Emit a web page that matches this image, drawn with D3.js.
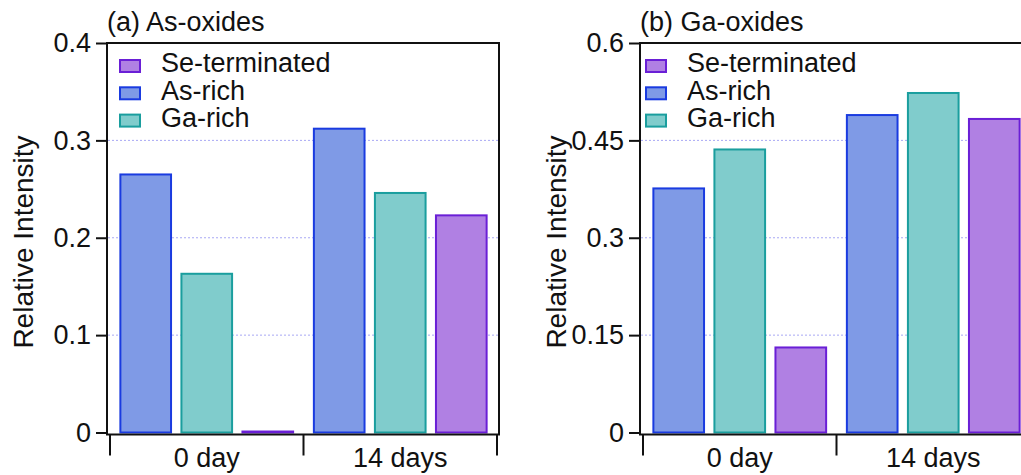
<!DOCTYPE html>
<html>
<head>
<meta charset="utf-8">
<script src="https://cdn.jsdelivr.net/npm/d3@7"></script>
<style>
    body { margin: 0; background: #fff; }
    svg { display: block; font-family: "Liberation Sans", Arial, Helvetica, sans-serif; }
</style>
</head>
<body>
<div id="chart"></div>
<script>
// data
const days = ["0 day", "14 days"];
const samples = ["As-rich", "Ga-rich", "Se-terminated"];
const legendOrder = ["Se-terminated", "As-rich", "Ga-rich"];

const asOxides = {
    "As-rich": [0.265, 0.312],
    "Ga-rich": [0.163, 0.246],
    "Se-terminated": [0.001, 0.223]
};
const gaOxides = {
    "As-rich": [0.376, 0.489],
    "Ga-rich": [0.436, 0.523],
    "Se-terminated": [0.131, 0.483]
};
const asTicks = [0, 0.1, 0.2, 0.3, 0.4];
const gaTicks = [0, 0.15, 0.3, 0.45, 0.6];

// styling
const fills = {"As-rich": "#7f9ae6", "Ga-rich": "#80cccc", "Se-terminated": "#b080e3"};
const strokes = {"As-rich": "#1a3be0", "Ga-rich": "#1a9e9e", "Se-terminated": "#6a1fd6"};
const fontSize = 27;
const width = 1021, height = 475;
const plotTop = 43, zeroY = 432.5;

const svg = d3.select("#chart").append("svg")
    .attr("width", width)
    .attr("height", height);

function drawPanel({title, data, ticks, frameLeft, xLeft, legendLeft, legendTextLeft}) {
    const xRight = xLeft + 387;
    const frameRight = xRight + 2;
    const frameBottom = zeroY + 2;

    const y = d3.scaleLinear()
        .domain([0, d3.max(ticks)])
        .range([zeroY, plotTop]);

    const x0 = d3.scaleBand()
        .domain(days)
        .range([xLeft, xRight])
        .padding(0);

    const x1 = d3.scaleBand()
        .domain(samples)
        .range([0, x0.bandwidth()])
        .paddingInner(0.17)
        .paddingOuter(0.17);

    const g = svg.append("g");

    // grid lines
    g.selectAll(".grid")
        .data(ticks.filter(t => t > 0 && t < d3.max(ticks)))
        .join("line")
        .attr("x1", frameLeft + 1)
        .attr("x2", frameRight)
        .attr("y1", d => y(d))
        .attr("y2", d => y(d))
        .attr("stroke", "#a8a8f4")
        .attr("stroke-width", 1)
        .attr("stroke-dasharray", "2,2");

    // bars
    days.forEach((day, di) => {
        g.selectAll(null)
            .data(samples)
            .join("rect")
            .attr("x", s => x0(day) + x1(s))
            .attr("y", s => y(data[s][di]))
            .attr("width", x1.bandwidth())
            .attr("height", s => zeroY - y(data[s][di]))
            .attr("fill", s => fills[s])
            .attr("stroke", s => strokes[s])
            .attr("stroke-width", 2);
    });

    // frame
    g.append("path")
        .attr("d", `M${frameLeft},${plotTop}H${frameRight}V${frameBottom}H${frameLeft}Z`)
        .attr("fill", "none")
        .attr("stroke", "#111")
        .attr("stroke-width", 2);

    // y axis
    const yAxis = g.append("g")
        .attr("transform", `translate(${frameLeft},0)`)
        .call(d3.axisLeft(y).tickValues(ticks).tickSize(11).tickPadding(5)
            .tickFormat(d => d === 0 ? "0" : String(+d.toFixed(2))));
    yAxis.select(".domain").remove();
    yAxis.selectAll("line").attr("stroke", "#111").attr("stroke-width", 2);
    yAxis.selectAll("text")
        .attr("font-size", fontSize)
        .attr("fill", "#111")
        .attr("font-family", "Liberation Sans, Arial, sans-serif");

    // x axis: ticks at band edges, labels centred in bands
    const edges = days.map(d => x0(d)).concat([xRight]);
    g.selectAll(".xtick")
        .data(edges)
        .join("line")
        .attr("x1", d => d).attr("x2", d => d)
        .attr("y1", frameBottom).attr("y2", frameBottom + 21)
        .attr("stroke", "#111")
        .attr("stroke-width", 2);

    g.selectAll(".xlabel")
        .data(days)
        .join("text")
        .attr("x", d => x0(d) + x0.bandwidth() / 2)
        .attr("y", 467)
        .attr("text-anchor", "middle")
        .attr("font-size", fontSize)
        .attr("fill", "#111")
        .text(d => d);

    // y label
    g.append("text")
        .attr("transform", `translate(${frameLeft - 74},242) rotate(-90)`)
        .attr("text-anchor", "middle")
        .attr("font-size", fontSize + 1)
        .attr("fill", "#111")
        .text("Relative Intensity");

    // title
    g.append("text")
        .attr("x", frameLeft)
        .attr("y", 31)
        .attr("font-size", fontSize)
        .attr("fill", "#111")
        .text(title);

    // legend
    const legend = g.append("g");
    legend.selectAll("rect")
        .data(legendOrder)
        .join("rect")
        .attr("x", legendLeft)
        .attr("y", (d, i) => 60 + i * 27.3)
        .attr("width", 20)
        .attr("height", 12)
        .attr("fill", d => fills[d])
        .attr("stroke", d => strokes[d])
        .attr("stroke-width", 2);
    legend.selectAll("text")
        .data(legendOrder)
        .join("text")
        .attr("x", legendTextLeft)
        .attr("y", (d, i) => 72 + i * 27.6)
        .attr("font-size", fontSize)
        .attr("fill", "#111")
        .text(d => d);
}

drawPanel({title: "(a) As-oxides", data: asOxides, ticks: asTicks,
    frameLeft: 107, xLeft: 110, legendLeft: 120, legendTextLeft: 161});
drawPanel({title: "(b) Ga-oxides", data: gaOxides, ticks: gaTicks,
    frameLeft: 640, xLeft: 643, legendLeft: 646, legendTextLeft: 687});
</script>
</body>
</html>
